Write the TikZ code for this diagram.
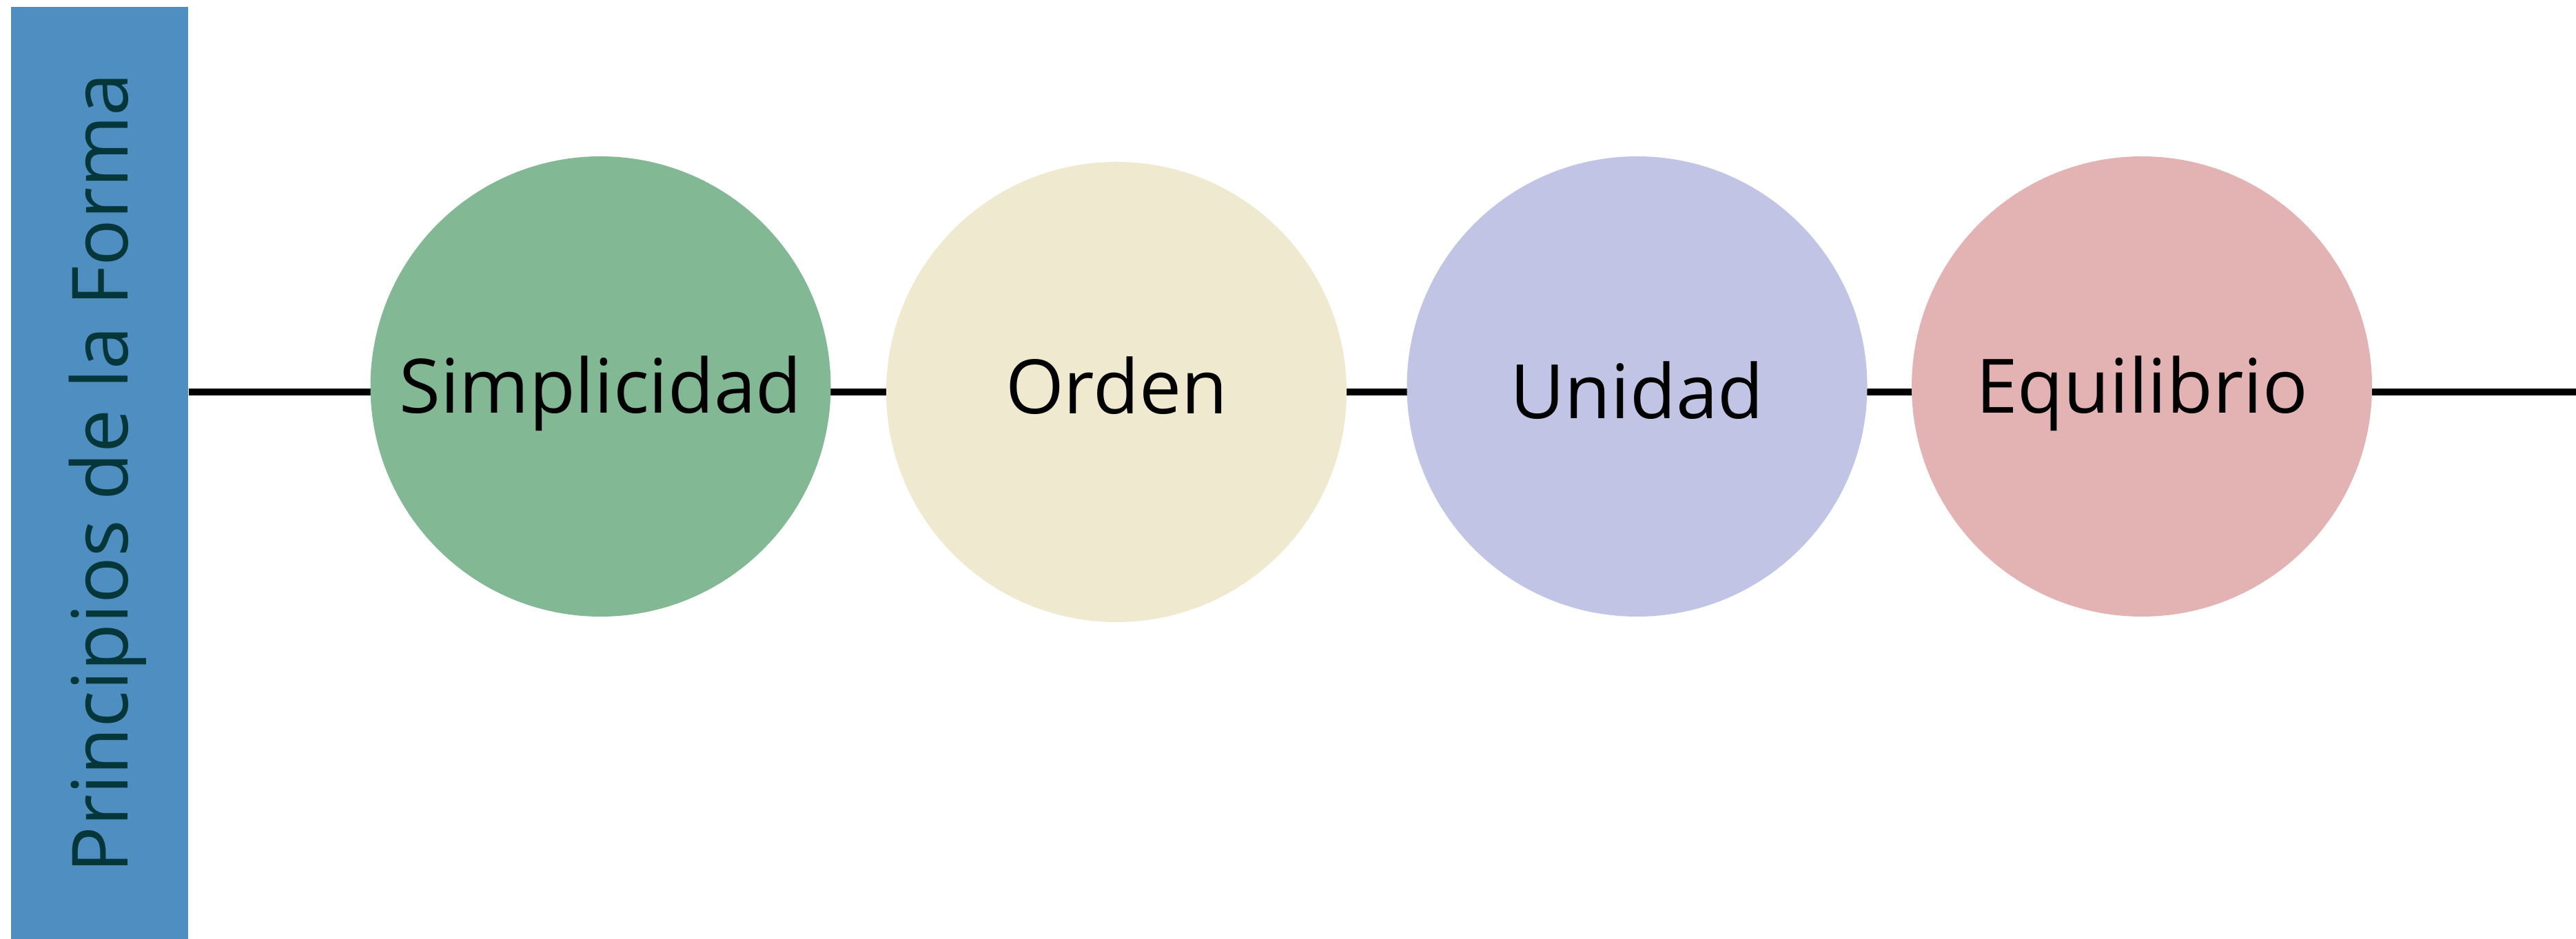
\documentclass[tikz,border=0pt]{standalone}
\usepackage{fontspec}
\setmainfont{Open Sans}
\definecolor{barblue}{RGB}{79,142,193}
\definecolor{titleteal}{RGB}{5,54,58}
\definecolor{cgreen}{RGB}{130,184,148}
\definecolor{ccream}{RGB}{238,233,207}
\definecolor{clilac}{RGB}{194,196,230}
\definecolor{cpink}{RGB}{227,179,179}
\begin{document}
\begin{tikzpicture}
    [principle/.style={circle,minimum size=6.68cm,inner sep=0pt,
      text height=0.78cm,text depth=0pt,
      font=\fontsize{31}{37}\selectfont},
     axis/.style={line width=2.9pt}]
    \useasboundingbox (0,0) rectangle (37.38,13.63);
    \node[fill=barblue,minimum width=2.57cm,minimum height=13.53cm,inner sep=0pt]
      (bar) at (1.445,6.765) {};
    \node[rotate=90,text=titleteal,inner sep=0pt,text height=0.81cm,text depth=0pt,
      font=\fontsize{32}{38}\selectfont]
      (title) at (bar.center) {Principios de la Forma};
    \coordinate (lineend) at (37.38,7.94);
    \draw[axis] (bar.east |- lineend) -- (lineend);
    \node[principle,fill=cgreen](simp) at (8.715,8.02){Simplicidad};
    \node[principle,fill=ccream,text height=0.64cm](orden) at (16.20,7.94){Orden};
    \node[principle,fill=clilac,text height=0.94cm](unid) at (23.755,8.02){Unidad};
    \node[principle,fill=cpink](equi) at (31.08,8.02){Equilibrio};
\end{tikzpicture}
\end{document}
